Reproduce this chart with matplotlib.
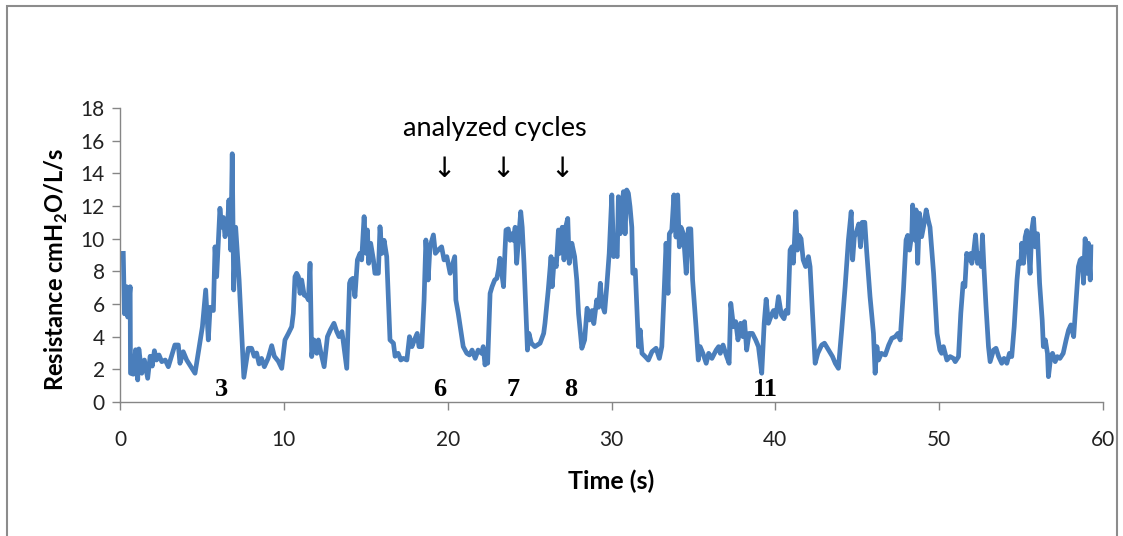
import matplotlib
matplotlib.use("Agg")
import matplotlib.pyplot as plt
from matplotlib.patches import Rectangle

# ---- data ----
time_s = [
    0.20, 0.27, 0.40, 0.47, 0.62, 0.64, 0.82, 0.95, 1.08, 1.15, 1.33, 1.49, 1.69, 1.84, 1.97, 2.10,
    2.23, 2.38, 2.55, 2.76, 2.95, 3.35, 3.56, 3.66, 3.86, 4.07, 4.58, 4.77, 5.03, 5.23, 5.39, 5.50,
    5.70, 5.80, 5.90, 6.10, 6.21, 6.31, 6.41, 6.58, 6.65, 6.76, 6.85, 6.94, 7.06, 7.27, 7.56, 7.83,
    8.03, 8.19, 8.34, 8.49, 8.64, 8.81, 9.04, 9.26, 9.42, 9.66, 9.87,
    10.07, 10.28, 10.48, 10.58, 10.68, 10.78, 10.89, 10.99, 11.09, 11.24, 11.40, 11.50, 11.60, 11.70,
    11.84, 12.01, 12.11, 12.25, 12.46, 12.66, 12.84, 13.06, 13.23, 13.37, 13.55, 13.84, 14.01, 14.08,
    14.21, 14.34, 14.49, 14.65, 14.75, 14.90, 15.02, 15.10, 15.18, 15.30, 15.47, 15.56, 15.77, 15.87,
    15.99, 16.12, 16.28, 16.48, 16.69, 16.79, 16.98, 17.14, 17.29, 17.51, 17.67, 17.82, 17.97, 18.14,
    18.25, 18.42, 18.56, 18.67, 18.81, 18.92, 19.13, 19.25, 19.42, 19.63, 19.78, 19.95, 20.15,
    20.43, 20.50, 20.65, 20.95, 21.17, 21.33, 21.49, 21.68, 21.86, 22.07, 22.17, 22.28, 22.39, 22.44,
    22.59, 22.71, 22.87, 23.00, 23.10, 23.19, 23.30, 23.41, 23.50, 23.56, 23.70, 23.81, 23.90, 24.01,
    24.12, 24.21, 24.32, 24.46, 24.55, 24.66, 24.87, 24.96, 25.11, 25.32, 25.64, 25.86, 25.94, 26.14,
    26.31, 26.38, 26.50, 26.63, 26.76, 26.84, 26.99, 27.10, 27.20, 27.33, 27.42, 27.58, 27.75, 27.88,
    27.99, 28.19, 28.36, 28.51, 28.65, 28.82, 28.92, 29.10, 29.21, 29.32, 29.41, 29.58, 29.71, 29.86,
    30.02, 30.13, 30.24, 30.35, 30.42, 30.53, 30.63, 30.73, 30.83, 30.93, 31.03, 31.13, 31.24, 31.30,
    31.45, 31.65, 31.75, 31.86, 32.06, 32.25, 32.47, 32.72, 32.92, 33.07, 33.21, 33.33, 33.45, 33.53,
    33.68, 33.81, 33.94, 34.04, 34.14, 34.24, 34.39, 34.56, 34.69, 34.84, 34.95, 35.16, 35.30, 35.41,
    35.58, 35.78, 35.93, 36.13, 36.39, 36.54, 36.64, 36.81, 37.03, 37.18, 37.28, 37.45, 37.58, 37.72,
    37.88, 38.02, 38.12, 38.25, 38.40, 38.60, 38.80, 38.97, 39.17, 39.32, 39.44, 39.58, 39.79, 39.89,
    40.03, 40.19, 40.37, 40.53, 40.64, 40.77, 40.90, 41.01, 41.10, 41.17, 41.25, 41.35, 41.45, 41.57,
    41.70, 41.85, 42.02, 42.12, 42.26, 42.43, 42.59, 42.83, 43.00, 43.25, 43.49, 43.66, 43.85, 44.05,
    44.26, 44.46, 44.63, 44.72, 44.82, 44.95, 45.09, 45.20, 45.30, 45.46, 45.57, 45.78, 45.99, 46.09,
    46.20, 46.30, 46.47, 46.71, 46.92, 47.11, 47.32, 47.48, 47.62, 47.82, 47.98, 48.08, 48.19, 48.33,
    48.38, 48.54, 48.59, 48.69, 48.80, 48.93, 49.04, 49.21, 49.34, 49.44, 49.66, 49.87, 50.04,
    50.15, 50.26, 50.47, 50.67, 50.87, 50.98, 51.18, 51.32, 51.46, 51.57, 51.68, 51.78, 51.94, 51.99,
    52.10, 52.22, 52.34, 52.47, 52.57, 52.64, 52.73, 52.86, 53.01, 53.11, 53.32, 53.47, 53.63, 53.82,
    53.96, 54.13, 54.29, 54.43, 54.58, 54.75, 54.85, 54.99, 55.04, 55.15, 55.25, 55.35, 55.45, 55.55,
    55.65, 55.76, 55.86, 56.00, 56.13, 56.29, 56.36, 56.48, 56.61, 56.67, 56.81, 56.92, 57.08, 57.21,
    57.37, 57.57, 57.75, 57.90, 58.04, 58.21, 58.36, 58.50, 58.61, 58.72, 58.81, 58.91, 59.01, 59.11,
    59.22, 59.26,
]
resistance = [
    9.10, 5.40, 7.06, 5.20, 7.06, 1.76, 1.70, 3.20, 1.35, 3.25, 1.76, 2.57, 1.45, 2.80, 2.20, 3.14,
    2.57, 2.88, 2.47, 2.57, 2.16, 3.49, 3.49, 2.37, 3.08, 2.57, 1.76, 2.98, 4.61, 6.86, 3.80, 5.80,
    5.60, 9.50, 7.67, 11.86, 10.70, 11.30, 10.12, 11.10, 12.37, 9.30, 15.20, 6.86, 10.70, 7.47, 1.51, 3.29,
    3.29, 2.80, 3.00, 2.33, 2.67, 2.16, 2.67, 3.45, 2.80, 2.50, 2.06,
    3.80, 4.20, 4.61, 5.43, 7.67, 7.88, 7.67, 6.65, 7.47, 6.55, 6.45, 6.25, 8.49, 2.78,
    3.80, 2.98, 3.80, 3.08, 2.16, 4.00, 4.41, 4.82, 4.31, 4.00, 4.31, 2.06, 7.27, 7.47,
    7.57, 6.45, 8.70, 9.10, 8.70, 11.35, 9.10, 10.53, 8.49, 9.72, 8.70, 7.88, 7.88, 10.73,
    9.10, 9.90, 8.90, 3.80, 3.60, 2.80, 2.98, 2.57, 2.67, 2.57, 4.00, 3.39, 3.80, 4.20,
    3.39, 3.39, 6.25, 9.92, 7.47, 9.50, 10.23, 9.10, 9.30, 9.50, 8.70, 8.90, 7.88,
    8.90, 6.25, 5.40, 3.39, 2.98, 2.88, 3.18, 2.67, 3.18, 2.98, 3.39, 2.27, 2.98, 2.37,
    6.65, 7.06, 7.47, 7.57, 8.08, 8.80, 7.88, 7.06, 9.30, 10.53, 10.60, 9.90, 10.30, 9.90,
    10.70, 8.49, 9.90, 11.65, 10.70, 8.49, 3.18, 4.20, 3.60, 3.39, 3.60, 4.20, 4.82, 6.86,
    8.90, 7.06, 8.70, 8.29, 10.53, 9.10, 10.70, 8.70, 10.70, 11.24, 8.49, 9.72, 8.90, 7.47,
    5.40, 3.29, 3.80, 5.74, 5.02, 5.60, 4.80, 6.25, 5.80, 7.27, 6.04, 5.50, 7.06, 9.10,
    12.68, 8.90, 9.10, 8.90, 12.57, 10.30, 11.96, 12.88, 10.30, 12.98, 12.78, 11.96, 10.70, 7.88,
    8.08, 3.39, 4.41, 2.98, 2.78, 2.57, 3.08, 3.29, 2.67, 3.39, 6.65, 9.72, 6.65, 10.30,
    10.53, 12.68, 10.10, 12.68, 9.50, 10.70, 10.30, 7.88, 10.60, 10.60, 7.47, 4.61, 2.57, 3.39,
    2.98, 2.37, 2.98, 2.67, 3.18, 3.39, 2.98, 3.49, 2.78, 2.37, 6.04, 4.61, 4.92, 3.80,
    4.82, 4.00, 4.92, 3.18, 4.20, 4.20, 3.80, 3.39, 1.76, 4.82, 6.29, 4.82, 5.40, 5.60,
    5.20, 6.45, 5.33, 5.10, 5.60, 5.43, 9.30, 9.50, 8.50, 9.90, 11.65, 9.30, 10.20, 10.00,
    8.70, 8.29, 8.90, 8.29, 5.63, 2.37, 2.98, 3.49, 3.60, 3.18, 2.78, 2.37, 2.06, 4.41,
    7.06, 9.92, 11.65, 8.70, 10.10, 10.40, 10.90, 9.50, 11.00, 11.00, 9.30, 6.45, 4.20, 1.76,
    3.39, 2.57, 2.98, 2.88, 3.49, 3.90, 4.00, 4.20, 3.80, 6.86, 9.92, 10.20, 9.30, 10.30,
    12.06, 9.90, 11.76, 8.49, 11.55, 10.12, 10.70, 11.76, 11.10, 10.70, 7.88, 4.20, 3.18,
    2.98, 3.39, 2.57, 2.78, 2.67, 2.47, 2.78, 5.43, 7.27, 7.06, 9.10, 8.70, 9.10, 8.49,
    9.10, 10.23, 8.49, 9.10, 8.29, 10.23, 8.29, 5.84, 3.39, 2.47, 3.18, 3.29, 2.78, 2.37,
    2.67, 2.37, 2.98, 2.78, 4.61, 7.47, 8.59, 8.49, 9.72, 8.49, 10.10, 10.50, 9.50, 7.88,
    10.50, 11.25, 9.50, 10.30, 7.27, 5.00, 3.39, 3.80, 2.98, 1.55, 2.78, 2.98, 2.47, 2.78,
    2.67, 2.98, 3.80, 4.41, 4.72, 4.00, 6.25, 8.29, 8.70, 8.80, 7.27, 10.00, 7.88, 9.72,
    7.47, 9.50,
]

x_ticks = [0, 10, 20, 30, 40, 50, 60]
y_ticks = [0, 2, 4, 6, 8, 10, 12, 14, 16, 18]

cycle_labels = ["3", "6", "7", "8", "11"]
cycle_label_x = [6.2, 19.5, 24.0, 27.5, 39.4]
arrow_x = [19.75, 23.35, 27.0]
header_text = "analyzed cycles"
header_x = 22.9

# ---- figure ----
plt.rcParams['font.family'] = ['Lato', 'DejaVu Sans']
plt.rcParams['mathtext.fontset'] = 'custom'
plt.rcParams['mathtext.bf'] = 'Lato:bold'
plt.rcParams['mathtext.rm'] = 'Lato'

fig = plt.figure(figsize=(11.23, 5.36), dpi=100)
fig.patch.set_facecolor('white')

# outer frame
fig.patches.append(Rectangle((7 / 1123, -0.05), (1117 - 7) / 1123, 1.05 - 6 / 536,
                             transform=fig.transFigure, fill=False,
                             edgecolor='#8c8c8c', linewidth=1.5))

ax = fig.add_axes([120 / 1123, 1 - 402 / 536, (1103 - 120) / 1123, (402 - 108) / 536])
ax.plot(time_s, resistance, color='#4a7ebb', linewidth=3.4, solid_joinstyle='round')

ax.set_xlim(0, 60)
ax.set_ylim(0, 18)
ax.set_xticks(x_ticks)
ax.set_yticks(y_ticks)
for s in ['top', 'right']:
    ax.spines[s].set_visible(False)
for s in ['left', 'bottom']:
    ax.spines[s].set_color('#868686')
    ax.spines[s].set_linewidth(1.0)
ax.tick_params(axis='both', direction='out', length=6, width=1.0, color='#868686',
               labelsize=15, labelcolor='#222222')
ax.tick_params(axis='x', pad=14)
ax.tick_params(axis='y', pad=5)

ax.set_xlabel('Time (s)', fontsize=18, fontweight='bold', labelpad=14)
ax.set_ylabel(r'Resistance cmH$_\mathbf{2}$O/L/s', fontsize=17, fontweight='bold', labelpad=5)
ax.yaxis.set_label_coords(-0.051, 0.45)

for lab, xv in zip(cycle_labels, cycle_label_x):
    ax.text(xv, 0.05, lab, ha='center', va='bottom', fontsize=19, fontweight='bold',
            family=['Liberation Serif', 'DejaVu Serif'], clip_on=False)

for xv in arrow_x:
    ax.text(xv, 14.25, '\u2193', ha='center', va='center', fontsize=20,
            family=['DejaVu Sans'], color='black')

ax.text(header_x, 16.75, header_text, ha='center', va='center', fontsize=19.5, color='black')

fig.savefig('out.png', dpi=100, facecolor='white')
